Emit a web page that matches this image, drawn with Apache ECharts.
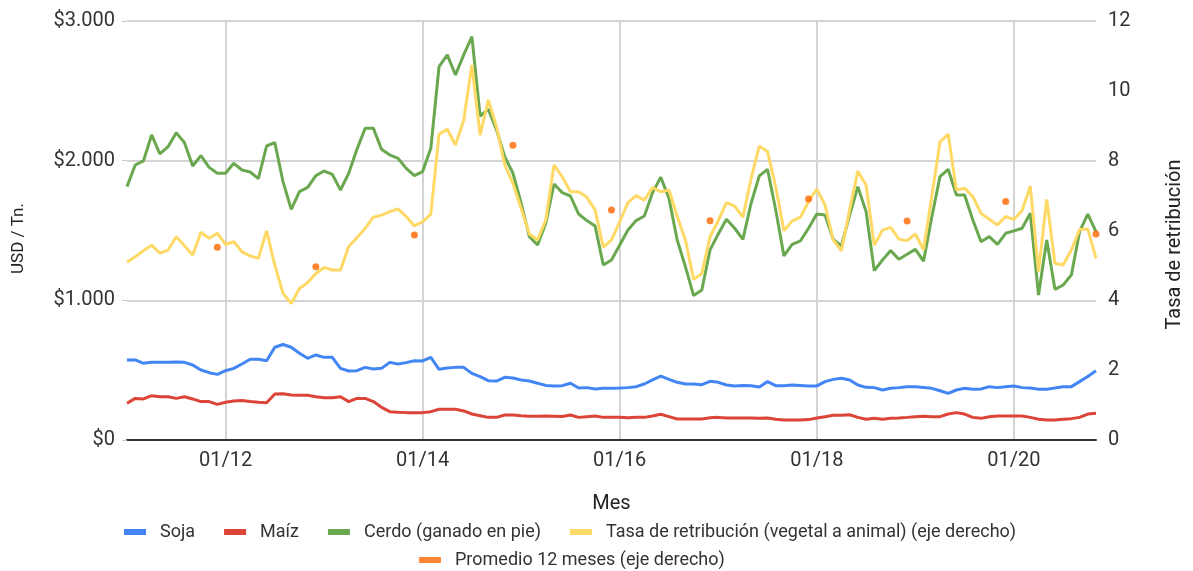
<!DOCTYPE html>
<html>
<head>
<meta charset="utf-8">
<script src="https://cdn.jsdelivr.net/npm/echarts@6/dist/echarts.min.js"></script>
<style>html,body{margin:0;padding:0;background:#fff;}#c{width:1193px;height:571px;}</style>
</head>
<body>
<div id="c"></div>
<script>
// Monthly categories Jan 2011 .. Nov 2020 (MM/YY)
var months = [];
for (var y = 11; y <= 20; y++) {
  for (var m = 1; m <= 12; m++) {
    if (y === 20 && m > 11) break;
    months.push((m < 10 ? '0' + m : '' + m) + '/' + y);
  }
}
var xTickLabels = ['01/12', '01/14', '01/16', '01/18', '01/20'];
var leftTicks = [0, 1000, 2000, 3000];

var soja = [573,573,549,556,556,556,558,556,537,501,482,470,496,513,544,578,578,568,664,684,664,621,585,609,592,592,513,494,496,520,508,513,556,544,554,568,566,592,506,516,520,520,477,454,425,422,449,444,430,422,406,391,387,389,406,372,375,365,370,370,372,375,382,401,430,458,434,413,401,401,396,420,413,394,387,391,389,380,418,389,389,394,391,387,387,418,434,442,430,394,377,375,358,370,375,382,382,376,370,353,334,358,370,363,365,382,375,382,387,375,372,363,363,372,382,382,418,454,496];
var maiz = [263,298,294,317,310,310,298,310,294,275,275,255,270,279,282,275,270,267,329,331,322,320,320,310,303,303,310,275,298,298,275,234,203,198,196,196,196,203,220,221,220,208,186,174,162,162,179,179,174,170,170,172,170,168,179,162,167,172,162,162,162,160,162,162,172,184,167,150,150,150,150,160,162,158,158,158,158,156,158,148,143,143,143,146,158,167,177,177,181,162,148,155,148,155,158,162,167,170,167,167,186,196,186,162,155,167,172,172,172,172,162,148,143,143,148,153,162,186,191];
var cerdo = [1814,1969,1998,2184,2048,2100,2200,2129,1962,2036,1952,1910,1910,1981,1933,1919,1871,2105,2129,1850,1652,1778,1809,1893,1926,1902,1790,1910,2081,2232,2232,2081,2041,2017,1945,1893,1922,2089,2673,2757,2614,2757,2888,2320,2368,2220,2029,1910,1695,1456,1396,1552,1833,1771,1747,1618,1571,1532,1253,1289,1396,1504,1571,1604,1771,1881,1730,1432,1241,1034,1074,1361,1475,1580,1516,1437,1695,1891,1938,1647,1318,1401,1425,1516,1618,1611,1437,1389,1611,1814,1635,1213,1289,1356,1294,1330,1365,1280,1595,1886,1938,1754,1754,1575,1420,1456,1401,1480,1497,1516,1623,1038,1432,1079,1110,1182,1492,1618,1492];
var tasa = [5.09,5.25,5.42,5.58,5.35,5.44,5.82,5.56,5.30,5.95,5.78,5.92,5.60,5.68,5.39,5.27,5.20,5.99,5.01,4.20,3.91,4.34,4.51,4.77,4.94,4.87,4.87,5.54,5.79,6.06,6.38,6.44,6.54,6.62,6.40,6.13,6.25,6.47,8.76,8.90,8.45,9.16,10.74,8.73,9.74,8.97,7.88,7.35,6.63,5.90,5.73,6.30,7.88,7.54,7.11,7.11,6.95,6.59,5.52,5.73,6.25,6.80,7.00,6.87,7.23,7.11,7.16,6.41,5.73,4.60,4.77,5.82,6.28,6.80,6.70,6.38,7.49,8.42,8.26,7.25,5.99,6.27,6.38,6.83,7.19,6.73,5.73,5.42,6.59,7.70,7.30,5.58,6.01,6.09,5.75,5.71,5.90,5.45,6.97,8.54,8.76,7.16,7.21,6.97,6.49,6.32,6.16,6.40,6.32,6.57,7.27,4.82,6.89,5.06,5.01,5.44,6.03,6.04,5.20];
var promedioMeses = ['12/11','12/12','12/13','12/14','12/15','12/16','12/17','12/18','12/19','11/20'];
var promedioValores = [5.52,4.96,5.87,8.44,6.59,6.28,6.90,6.27,6.83,5.90];

var names = ['Soja', 'Maíz', 'Cerdo (ganado en pie)', 'Tasa de retribución (vegetal a animal) (eje derecho)', 'Promedio 12 meses (eje derecho)'];
var colors = ['#4285F4', '#DB4437', '#6AA84F', '#FFD966', '#FF6600'];

var FONT = 'Roboto, "Noto Sans", sans-serif';
var chart = echarts.init(document.getElementById('c'), null, {renderer: 'canvas'});
var showTick = function (idx, val) { return xTickLabels.indexOf(val) >= 0; };

chart.setOption({
  animation: false,
  textStyle: {fontFamily: FONT},
  color: colors,
  grid: {left: 127, right: 95, top: 21, bottom: 131, containLabel: false},
  legend: [{
    data: names.slice(0, 4),
    left: 124, top: 523,
    padding: 0,
    icon: 'rect', itemWidth: 22, itemHeight: 6, itemGap: 29,
    textStyle: {fontSize: 18, color: '#333', fontFamily: FONT, padding: [0, 0, 0, 9]}
  }, {
    data: names.slice(4),
    left: 419, top: 551,
    padding: 0,
    icon: 'rect', itemWidth: 22, itemHeight: 6,
    textStyle: {fontSize: 18, color: '#333', fontFamily: FONT, padding: [0, 0, 0, 9]}
  }],
  xAxis: {
    type: 'category', data: months, boundaryGap: false,
    name: 'Mes', nameLocation: 'middle', nameGap: 54,
    nameTextStyle: {fontSize: 20, color: '#222', fontFamily: FONT},
    axisLine: {show: true, lineStyle: {color: '#333', width: 2}},
    axisTick: {show: false},
    axisLabel: {interval: showTick, fontSize: 20, color: '#333', margin: 11, fontFamily: FONT},
    splitLine: {show: true, interval: showTick, lineStyle: {color: '#d4d4d4', width: 2}}
  },
  yAxis: [{
    type: 'value', min: 0, max: 3000, interval: 1000,
    name: 'USD / Tn.', nameLocation: 'middle', nameGap: 100,
    nameTextStyle: {fontSize: 17, color: '#222', fontFamily: FONT, padding: [0, 16, 0, 0]},
    axisLine: {show: false},
    axisTick: {show: true, length: 5, lineStyle: {color: '#ccc', width: 1}},
    axisLabel: {fontSize: 20, color: '#333', margin: 12, fontFamily: FONT,
      formatter: function (v) { return '$' + String(v).replace(/\B(?=(\d{3})+(?!\d))/g, '.'); }},
    splitLine: {show: true, lineStyle: {color: '#d4d4d4', width: 2}}
  }, {
    type: 'value', min: 0, max: 12, interval: 2,
    name: 'Tasa de retribución', nameLocation: 'middle', nameGap: 69,
    nameTextStyle: {fontSize: 20, color: '#222', fontFamily: FONT, padding: [0, 28, 0, 0]},
    axisLine: {show: false}, axisTick: {show: false},
    axisLabel: {fontSize: 20, color: '#333', margin: 12, fontFamily: FONT},
    splitLine: {show: false}
  }],
  series: [
    {name: names[0], type: 'line', data: soja, showSymbol: false, lineStyle: {width: 3, color: colors[0]}, itemStyle: {color: colors[0]}},
    {name: names[1], type: 'line', data: maiz, showSymbol: false, lineStyle: {width: 3, color: colors[1]}, itemStyle: {color: colors[1]}},
    {name: names[2], type: 'line', data: cerdo, showSymbol: false, lineStyle: {width: 3, color: colors[2]}, itemStyle: {color: colors[2]}},
    {name: names[3], type: 'line', yAxisIndex: 1, data: tasa, showSymbol: false, lineStyle: {width: 3, color: colors[3]}, itemStyle: {color: colors[3]}},
    {name: names[4], type: 'scatter', yAxisIndex: 1, symbolSize: 7,
      data: promedioMeses.map(function (m, k) { return [m, promedioValores[k]]; }),
      itemStyle: {color: colors[4]}, z: 5}
  ]
});
</script>
</body>
</html>
